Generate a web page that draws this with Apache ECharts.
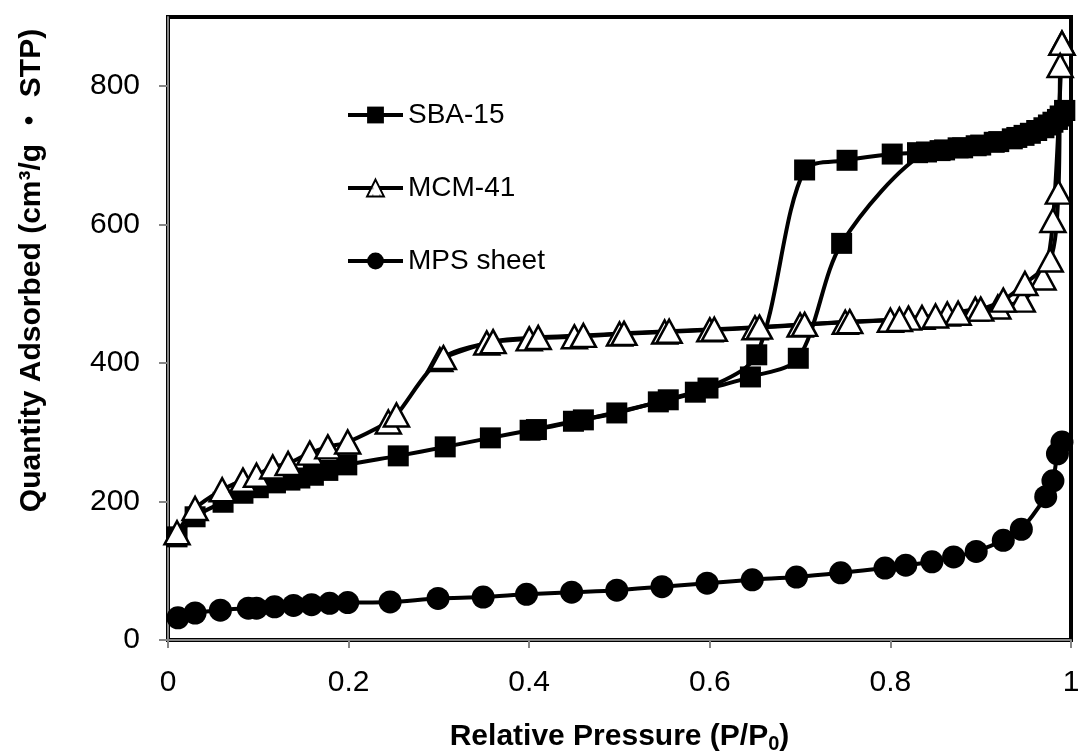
<!DOCTYPE html>
<html>
<head>
<meta charset="utf-8">
<script src="https://cdn.jsdelivr.net/npm/echarts@6/dist/echarts.min.js"></script>
<style>
  html, body { margin: 0; padding: 0; background: #fff; }
  #chart { width: 1078px; height: 754px; }
</style>
</head>
<body>
<div id="chart"></div>
<script>
// ---- data ----
const xTicks = [0, 0.2, 0.4, 0.6, 0.8, 1];
const yTicks = [0, 200, 400, 600, 800];

const sbaAdsX = [0.010, 0.030, 0.061, 0.083, 0.100, 0.119, 0.135, 0.146, 0.161, 0.177, 0.198, 0.255, 0.307, 0.357, 0.401, 0.449, 0.497, 0.543, 0.584, 0.645, 0.698, 0.746, 0.840, 0.860, 0.880, 0.900, 0.920, 0.940, 0.955, 0.970, 0.980, 0.988, 0.993];
const sbaAdsY = [149, 178, 199, 212, 220, 227, 231, 234, 238, 245, 253, 266, 279, 292, 303, 316, 328, 344, 358, 380, 407, 573, 705, 708, 711, 715, 720, 726, 732, 740, 748, 757, 765];
const sbaDesX = [0.993, 0.985, 0.975, 0.962, 0.948, 0.935, 0.915, 0.895, 0.875, 0.855, 0.830, 0.802, 0.752, 0.705, 0.652, 0.598, 0.554, 0.460, 0.408];
const sbaDesY = [765, 752, 744, 736, 729, 724, 719, 714, 711, 707, 704, 702, 693, 679, 412, 364, 347, 318, 304];

const mcmAdsX = [0.010, 0.030, 0.060, 0.083, 0.098, 0.116, 0.133, 0.157, 0.177, 0.199, 0.244, 0.253, 0.301, 0.353, 0.400, 0.450, 0.500, 0.550, 0.600, 0.650, 0.700, 0.750, 0.800, 0.835, 0.863, 0.894, 0.919, 0.946, 0.969, 0.980, 0.990];
const mcmAdsY = [155, 190, 217, 231, 238, 250, 255, 270, 279, 286, 315, 325, 405, 429, 435, 438, 442, 445, 448, 451, 455, 459, 462, 466, 471, 478, 481, 491, 523, 606, 862];
const mcmDesX = [0.990, 0.988, 0.986, 0.977, 0.949, 0.925, 0.900, 0.875, 0.850, 0.820, 0.810, 0.755, 0.705, 0.655, 0.605, 0.555, 0.505, 0.460, 0.410, 0.360, 0.305];
const mcmDesY = [862, 830, 647, 549, 515, 491, 478, 472, 468, 465, 463, 460, 456, 452, 449, 446, 443, 440, 437, 431, 408];

const mpsX = [0.011, 0.030, 0.058, 0.089, 0.098, 0.118, 0.139, 0.159, 0.179, 0.199, 0.246, 0.299, 0.349, 0.397, 0.447, 0.497, 0.547, 0.597, 0.647, 0.696, 0.745, 0.794, 0.817, 0.846, 0.870, 0.895, 0.925, 0.945, 0.972, 0.980, 0.985, 0.990];
const mpsY = [32, 39, 43, 46, 46, 48, 50, 51, 53, 54, 55, 60, 62, 66, 69, 72, 77, 82, 87, 91, 97, 104, 108, 113, 120, 128, 144, 160, 207, 230, 269, 286];

const seriesNames = ['SBA-15', 'MCM-41', 'MPS sheet'];

function zip(xs, ys) { return xs.map((x, i) => [x, ys[i]]); }

// dotted white fill for triangles
const pat = document.createElement('canvas');
pat.width = 7; pat.height = 7;
const pctx = pat.getContext('2d');
pctx.fillStyle = '#ffffff'; pctx.fillRect(0, 0, 7, 7);
pctx.fillStyle = '#808080'; pctx.fillRect(3, 3, 1.5, 1.5);
const dotFill = { image: pat, repeat: 'repeat' };

const FONT = 'Liberation Sans, Arial, sans-serif';

const lineBase = { type: 'line', smooth: 0.3, lineStyle: { color: '#000', width: 4 }, z: 2 };

function sba(data) {
  return Object.assign({}, lineBase, {
    name: seriesNames[0], data,
    symbol: 'rect', symbolSize: 21,
    itemStyle: { color: '#000', borderColor: '#000', borderWidth: 0 }
  });
}
function mcm(data) {
  return Object.assign({}, lineBase, {
    name: seriesNames[1], data, z: 3,
    symbol: 'triangle', symbolSize: [25, 23],
    itemStyle: { color: dotFill, borderColor: '#000', borderWidth: 2.5 }
  });
}
function mps(data) {
  return Object.assign({}, lineBase, {
    name: seriesNames[2], data,
    symbol: 'circle', symbolSize: 23,
    itemStyle: { color: '#000' }
  });
}

const chart = echarts.init(document.getElementById('chart'), null, { renderer: 'canvas' });
chart.setOption({
  animation: false,
  backgroundColor: '#fff',
  textStyle: { fontFamily: FONT },
  grid: { left: 168, right: 7, top: 17, bottom: 114, show: true, borderColor: '#000', borderWidth: 4,
    containLabel: false, outerBoundsMode: 'none' },
  legend: {
    data: seriesNames,
    orient: 'vertical', left: 341, top: 96,
    itemWidth: 55, itemHeight: 21, itemGap: 45,
    lineStyle: { width: 4, color: '#000' },
    textStyle: { fontSize: 28, color: '#000', fontFamily: FONT },
    selectedMode: false
  },
  xAxis: {
    type: 'value', min: xTicks[0], max: xTicks[xTicks.length - 1], interval: 0.2,
    axisLine: { lineStyle: { color: '#868686', width: 2 } },
    axisTick: { show: true, inside: false, length: 8, lineStyle: { color: '#868686', width: 2 } },
    splitLine: { show: false },
    axisLabel: { fontSize: 30, color: '#000', margin: 28, fontFamily: FONT,
      formatter: v => String(Math.round(v * 10) / 10) },
    name: '{b|Relative Pressure (P/P}{s|0}{b|)}',
    nameLocation: 'middle', nameGap: 80,
    nameTextStyle: {
      rich: {
        b: { fontSize: 30, fontWeight: 'bold', color: '#000', fontFamily: FONT, lineHeight: 34 },
        s: { fontSize: 20, fontWeight: 'bold', color: '#000', fontFamily: FONT, lineHeight: 20, verticalAlign: 'bottom', padding: [12, 0, 0, 0] }
      }
    }
  },
  yAxis: {
    type: 'value', min: 0, max: 900, interval: 200,
    axisLine: { show: true, lineStyle: { color: '#868686', width: 2 } },
    axisTick: { show: true, inside: false, length: 9, lineStyle: { color: '#868686', width: 2 } },
    splitLine: { show: false },
    axisLabel: { fontSize: 30, color: '#000', margin: 28, fontFamily: FONT, showMaxLabel: false,
      padding: [14, 0, 0, 0],
      formatter: v => (yTicks.indexOf(v) >= 0 ? String(v) : '') },
    name: 'Quantity Adsorbed (cm³/g ・ STP)',
    nameLocation: 'middle', nameGap: 121,
    nameTextStyle: { fontSize: 30, fontWeight: 'bold', color: '#000', fontFamily: FONT + ', Noto Sans CJK JP', padding: [0, 0, 0, 116] }
  },
  series: [
    sba(zip(sbaAdsX, sbaAdsY)),
    sba(zip(sbaDesX, sbaDesY)),
    mcm(zip(mcmAdsX, mcmAdsY)),
    mcm(zip(mcmDesX, mcmDesY)),
    mps(zip(mpsX, mpsY))
  ]
});
</script>
</body>
</html>
